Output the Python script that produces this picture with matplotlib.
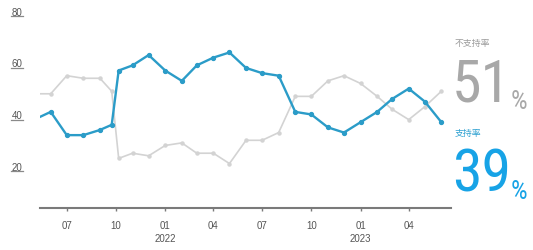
import numpy as np
import matplotlib
matplotlib.use('Agg')
import matplotlib.pyplot as plt
import matplotlib.transforms as mtransforms

# 調査日 (月の頭に置く。2021/09は2回)
dates = ['2021-05-01', '2021-06-01', '2021-07-01', '2021-08-01', '2021-09-01',
         '2021-09-23', '2021-10-06', '2021-11-01', '2021-12-01',
         '2022-01-01', '2022-02-01', '2022-03-01', '2022-04-01', '2022-05-01',
         '2022-06-01', '2022-07-01', '2022-08-01', '2022-09-01', '2022-10-01',
         '2022-11-01', '2022-12-01',
         '2023-01-01', '2023-02-01', '2023-03-01', '2023-04-01', '2023-05-01',
         '2023-06-01']
support = [40, 43, 34, 34, 36, 38, 59, 61, 65,
           59, 55, 61, 64, 66, 60, 58, 57, 43, 42, 37, 35,
           39, 43, 48, 52, 47, 39]
nonsupport = [50, 50, 57, 56, 56, 51, 25, 27, 26,
              30, 31, 27, 27, 23, 32, 32, 35, 49, 49, 55, 57,
              54, 49, 44, 40, 45, 51]

tick_dates = ['2021-07-01', '2021-10-01', '2022-01-01', '2022-04-01',
              '2022-07-01', '2022-10-01', '2023-01-01', '2023-04-01']
tick_labels = ['07', '10', '01', '04', '07', '10', '01', '04']
year_labels = [('2022-01-01', '2022'), ('2023-01-01', '2023')]
yticks = [20, 40, 60, 80]

W, H = 533, 251
blue = '#2b9cc8'
grey = '#d3d3d3'

x = np.array(dates, dtype='datetime64[D]')

fig = plt.figure(figsize=(W / 100, H / 100), dpi=100)
ax = fig.add_axes([40 / W, 1 - 209 / H, 411 / W, (209 - 12.1) / H])

ax.plot(x, nonsupport, color=grey, lw=1.2, marker='o', ms=2.2, mec=grey, mfc=grey, zorder=2)
ax.plot(x, support, color=blue, lw=1.7, marker='o', ms=2.8, mec=blue, mfc=blue, zorder=3)

ax.set_xlim(np.datetime64('2021-05-12'), np.datetime64('2023-06-19'))
ax.set_ylim(5.8, 82)

for s in ['left', 'right', 'top']:
    ax.spines[s].set_visible(False)
ax.spines['bottom'].set_color('#7a7a7a')
ax.spines['bottom'].set_linewidth(1.5)
ax.set_yticks([])
ax.set_xticks(np.array(tick_dates, dtype='datetime64[D]'))
ax.set_xticklabels(tick_labels, fontsize=7, color='#555555', family='Liberation Sans')
ax.tick_params(axis='x', length=2.5, width=1, color='#7a7a7a', pad=6)

# 年ラベル
for d, lab in year_labels:
    ax.annotate(lab, xy=(np.datetime64(d), 0), xycoords=ax.get_xaxis_transform(),
                xytext=(0, -21.5), textcoords='offset points', ha='center', va='center',
                fontsize=7, color='#555555', family='Liberation Sans')

# y軸ラベル (下線付き)
trans = mtransforms.blended_transform_factory(fig.transFigure, ax.transData)
for v in yticks:
    ax.plot([11 / W, 23 / W], [v, v], transform=trans, color='#8a8a8a', lw=0.9, clip_on=False)
    ax.annotate(str(v), xy=(17 / W, v), xycoords=trans, xytext=(0, 1.2),
                textcoords='offset points', ha='center', va='baseline',
                fontsize=7, color='#555555', family='Liberation Sans')

# 右側の数字
big = ['Roboto Condensed', 'DejaVu Sans Condensed', 'Liberation Sans Narrow', 'Liberation Sans']
jp = ['Noto Sans CJK JP', 'DejaVu Sans']

def big_number(y_label, y_base, label, num, c_label, c_num):
    fig.text(455 / W, 1 - y_label / H, label, fontsize=6.4, color=c_label, family=jp, va='center')
    t = fig.text(452 / W, 1 - y_base / H, num, fontsize=43, color=c_num, family=big,
                 fontstretch='condensed', va='baseline')
    ax.annotate('%', xy=(1, 0), xycoords=t, xytext=(0, 0), textcoords='offset points',
                ha='left', va='bottom', fontsize=19, color=c_num, family=big,
                fontstretch='condensed', annotation_clip=False)

big_number(43.5, 102, '不支持率', '51', '#9a9a9a', '#a8a8a8')
big_number(133.5, 192, '支持率', '39', '#2a9fd0', '#17a3e6')

plt.savefig('out.png', dpi=100)
